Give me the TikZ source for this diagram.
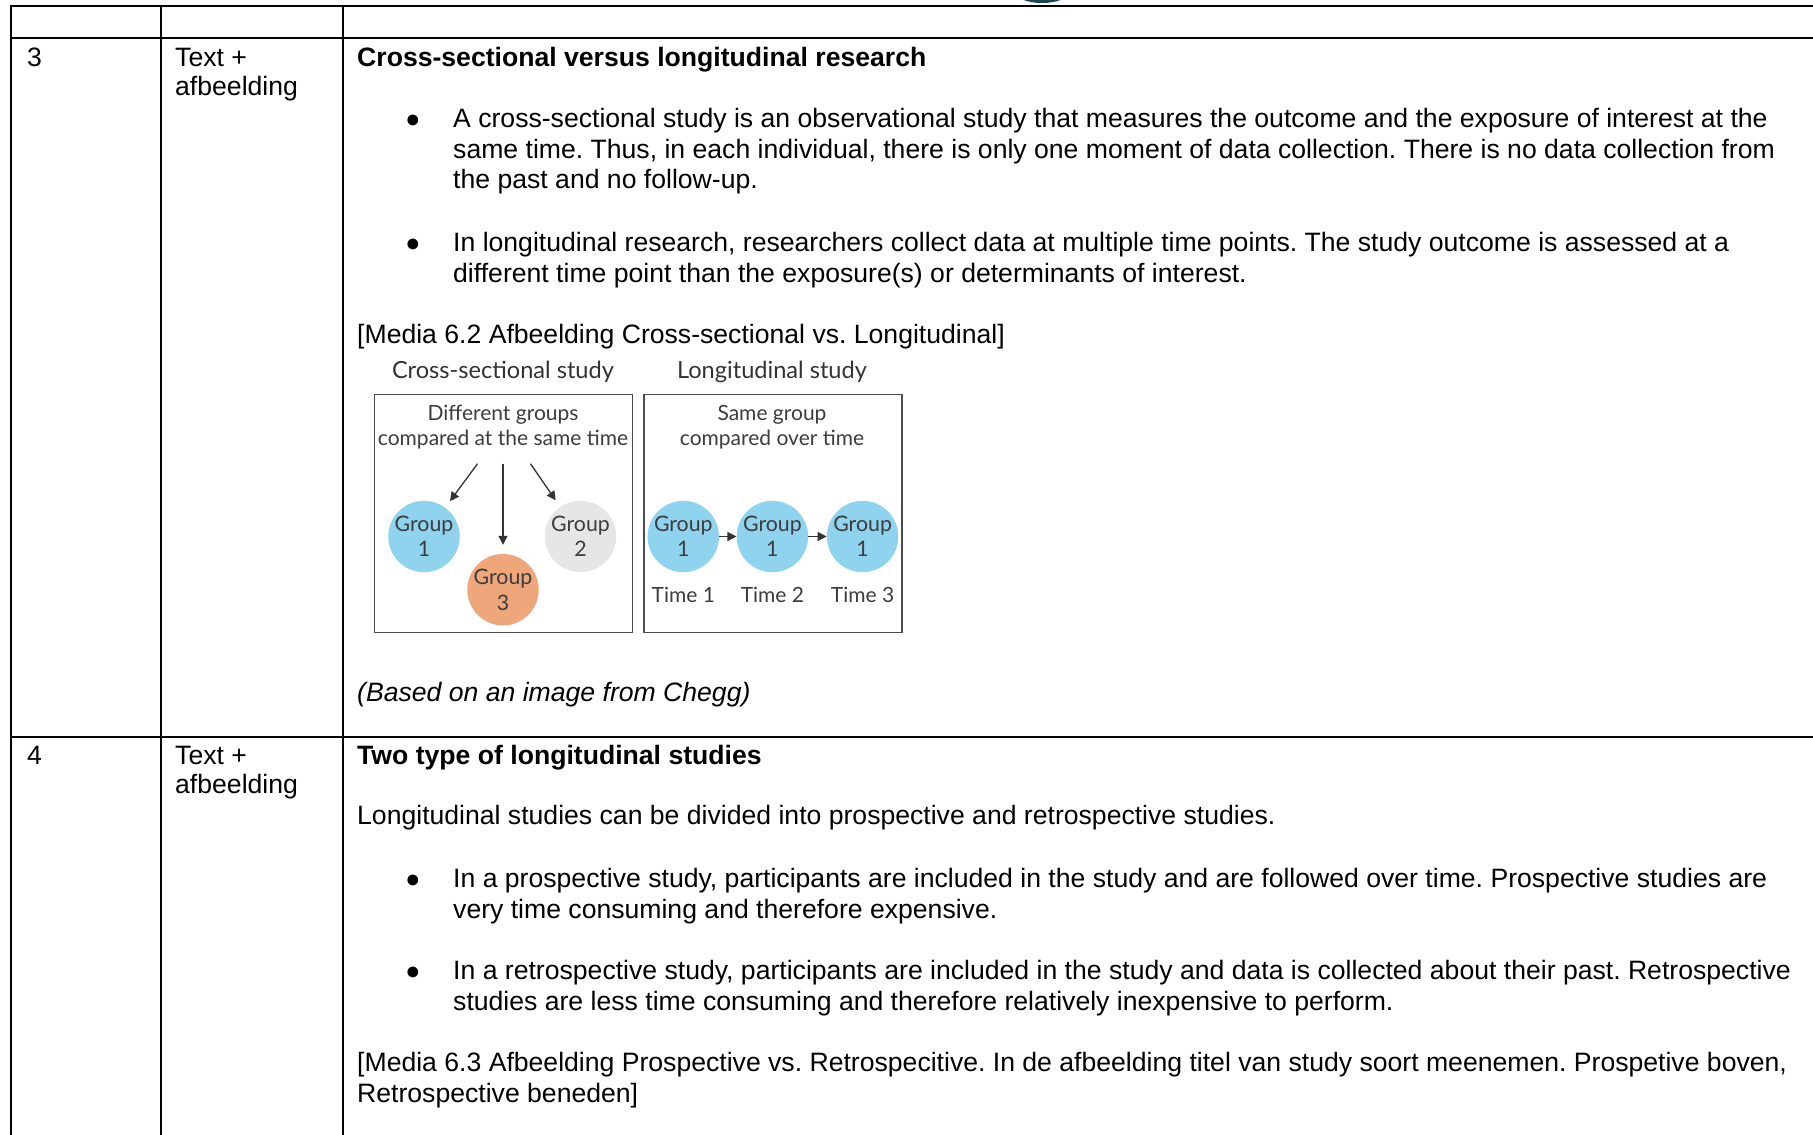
\documentclass[tikz,border=0pt]{standalone}
\usepackage{fontspec}
\setmainfont{Liberation Sans}
\newfontfamily\figfont{Lato}
\usepackage{tikz}
\usetikzlibrary{arrows.meta,positioning}
\frenchspacing

\definecolor{grpblue}{RGB}{143,211,238}
\definecolor{grporange}{RGB}{238,166,122}
\definecolor{grpgray}{RGB}{230,230,230}
\definecolor{figtext}{RGB}{60,60,60}
\definecolor{logoteal}{RGB}{25,70,80}

\begin{document}
\begin{tikzpicture}[
    x=1pt, y=-1pt,
    % --- STYLES ---
    grid/.style={line width=2.2pt, black, line cap=rect},
    txt/.style={anchor=base west, inner sep=0pt, font=\fontsize{26.6}{30}\selectfont},
    headtxt/.style={txt, font=\fontsize{26.6}{30}\selectfont\bfseries},
    bul/.style={anchor=base, inner sep=0pt, font=\fontsize{25}{30}\selectfont},
    figtitle/.style={inner sep=0pt, text=black!80, font=\figfont\fontsize{23.6}{26}\selectfont},
    figlabel/.style={inner sep=0pt, align=center, text=figtext, font=\figfont\fontsize{21}{25}\selectfont},
    panel/.style={draw=black!70, line width=1.3pt, minimum width=258pt, minimum height=238pt, inner sep=0pt},
    group/.style={circle, minimum size=69pt, inner sep=0pt, align=center, text=figtext,
        font=\figfont\fontsize{21.3}{25.5}\selectfont},
    flow/.style={-{Triangle[length=9pt,width=9pt]}, line width=1.3pt, black!80}
]

\useasboundingbox (0,0) rectangle (1813,1135);
\clip (0,0) rectangle (1813,1135);

% ===== 1. TABLE GRID =====
\def\yTop{6} \def\yHead{38} \def\yRow{737}
\def\xA{11} \def\xB{161} \def\xC{343}

\fill[logoteal] (1042,-8) ellipse (27 and 11);

\draw[grid] (\xA,\yTop) -- (1813,\yTop);
\draw[grid] (\xA,\yHead) -- (1813,\yHead);
\draw[grid] (\xA,\yRow) -- (1813,\yRow);
\draw[grid] (\xA,\yTop) -- (\xA,1135);
\draw[grid] (\xB,\yTop) -- (\xB,1135);
\draw[grid] (\xC,\yTop) -- (\xC,1135);

% ===== 2. ROW 3 =====
\node[txt] (nr3) at (27,66) {3};
\node[txt] (kind3a) at (175,66) {Text +};
\node[txt] (kind3b) at (175,95) {afbeelding};

\node[headtxt] (head3) at (357,66) {Cross-sectional versus longitudinal research};

\node[bul] (dot3a) at (413,127) {●};
\node[txt] (cs1) at (453,127) {A cross-sectional study is an observational study that measures the outcome and the exposure of interest at the};
\node[txt] (cs2) at (453,158) {same time. Thus, in each individual, there is only one moment of data collection. There is no data collection from};
\node[txt] (cs3) at (453,188) {the past and no follow-up.};

\node[bul] (dot3b) at (413,251) {●};
\node[txt] (lt1) at (453,251) {In longitudinal research, researchers collect data at multiple time points. The study outcome is assessed at a};
\node[txt] (lt2) at (453,282) {different time point than the exposure(s) or determinants of interest.};

\node[txt] (media62) at (357,343) {[Media 6.2 Afbeelding Cross-sectional vs. Longitudinal]};

% -- figure: cross-sectional --
\node[figtitle] (csTitle) at (503,372) {Cross-sectional study};
\node[panel] (csBox) at (503.5,513.4) {};
\node[figlabel] (csText) at (503,427) {Different groups\\compared at the same time};

\node[group, fill=grpblue] (g1) at (424,536.5) {Group\\1};
\node[group, fill=grpgray] (g2) at (580.5,536.5) {Group\\2};
\node[group, fill=grporange] (g3) at (503,589.7) {Group\\3};

\coordinate (fork1) at (477.5,463.7);
\coordinate (fork3) at (503,463.7);
\coordinate (fork2) at (530.5,463.7);
\draw[flow, shorten >=8pt] (fork1) -- (g1);
\draw[flow, shorten >=9pt] (fork3) -- (g3);
\draw[flow, shorten >=8pt] (fork2) -- (g2);

% -- figure: longitudinal --
\node[figtitle] (ltTitle) at (772,372) {Longitudinal study};
\node[panel] (ltBox) at (773,513.4) {};
\node[figlabel] (ltText) at (772,427) {Same group\\compared over time};

\node[group, fill=grpblue] (t1) at (683.3,536.5) {Group\\1};
\node[group, fill=grpblue] (t2) at (772.4,536.5) {Group\\1};
\node[group, fill=grpblue] (t3) at (862.6,536.5) {Group\\1};
\draw[flow] (t1) -- (t2);
\draw[flow] (t2) -- (t3);

\node[figlabel, below=15pt of t1] (time1) {Time 1};
\node[figlabel, below=15pt of t2] (time2) {Time 2};
\node[figlabel, below=15pt of t3] (time3) {Time 3};

\node[txt, font=\fontsize{26.6}{30}\selectfont\itshape] (source) at (357,701) {(Based on an image from Chegg)};

% ===== 3. ROW 4 =====
\node[txt] (nr4) at (27,764) {4};
\node[txt] (kind4a) at (175,764) {Text +};
\node[txt] (kind4b) at (175,793) {afbeelding};

\node[headtxt] (head4) at (357,764) {Two type of longitudinal studies};
\node[txt] (intro4) at (357,824) {Longitudinal studies can be divided into prospective and retrospective studies.};

\node[bul] (dot4a) at (413,887) {●};
\node[txt] (pro1) at (453,887) {In a prospective study, participants are included in the study and are followed over time. Prospective studies are};
\node[txt] (pro2) at (453,918) {very time consuming and therefore expensive.};

\node[bul] (dot4b) at (413,979) {●};
\node[txt] (retro1) at (453,979) {In a retrospective study, participants are included in the study and data is collected about their past. Retrospective};
\node[txt] (retro2) at (453,1010) {studies are less time consuming and therefore relatively inexpensive to perform.};

\node[txt] (media63a) at (357,1071) {[Media 6.3 Afbeelding Prospective vs. Retrospecitive. In de afbeelding titel van study soort meenemen. Prospetive boven,};
\node[txt] (media63b) at (357,1102) {Retrospective beneden]};

\end{tikzpicture}
\end{document}
